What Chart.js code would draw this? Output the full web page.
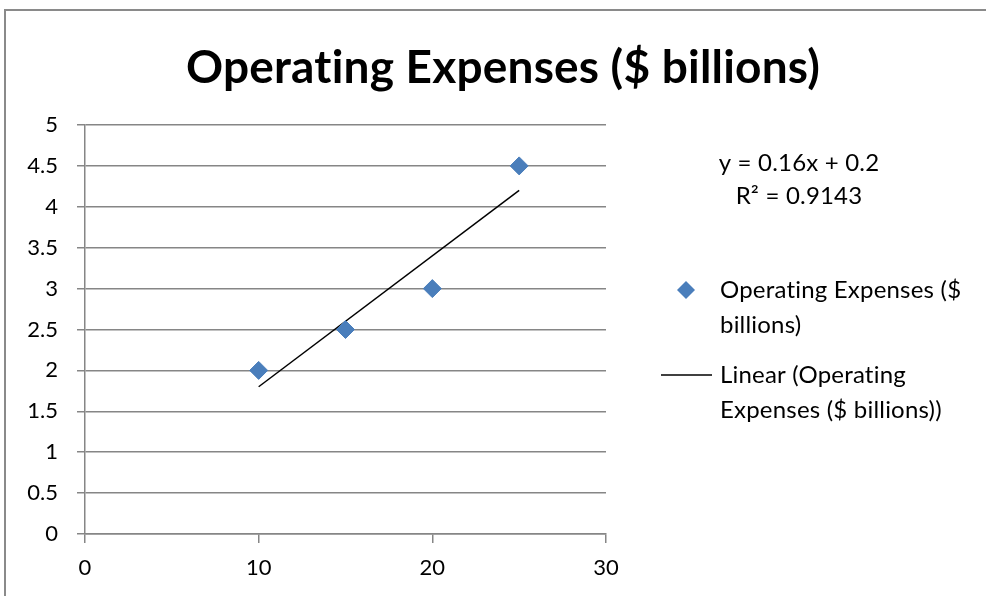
<!DOCTYPE html>
<html>
<head>
<meta charset="utf-8">
<script src="https://cdn.jsdelivr.net/npm/chart.js@4.4.0/dist/chart.umd.min.js"></script>
<style>
html, body { margin: 0; padding: 0; background: #fff; overflow: hidden; }
#wrap { position: relative; width: 986px; height: 596px; }
</style>
</head>
<body>
<div id="wrap"><canvas id="chart" width="986" height="596"></canvas></div>
<script>
// chart data
var chartTitle = "Operating Expenses ($ billions)";
var seriesName = "Operating Expenses ($ billions)";
var xValues = [10, 15, 20, 25];
var yValues = [2, 2.5, 3, 4.5];
var xTicks = [0, 10, 20, 30];
var yTicks = [0, 0.5, 1, 1.5, 2, 2.5, 3, 3.5, 4, 4.5, 5];

var FONT = "Lato";
var GRID = "#868686";
var BLUE = "#4A7EBB";

// least squares trendline (like Excel's "Linear" trendline)
var n = xValues.length, mx = 0, my = 0;
for (var i = 0; i < n; i++) { mx += xValues[i] / n; my += yValues[i] / n; }
var sxy = 0, sxx = 0, syy = 0;
for (i = 0; i < n; i++) {
    sxy += (xValues[i] - mx) * (yValues[i] - my);
    sxx += (xValues[i] - mx) * (xValues[i] - mx);
    syy += (yValues[i] - my) * (yValues[i] - my);
}
var slope = sxy / sxx;
var intercept = my - slope * mx;
var r2 = (sxy * sxy) / (sxx * syy);
var xFirst = Math.min.apply(null, xValues), xLast = Math.max.apply(null, xValues);
var trendPoints = [
    { x: xFirst, y: slope * xFirst + intercept },
    { x: xLast, y: slope * xLast + intercept }
];
var eqText = "y = " + +slope.toFixed(4) + "x + " + +intercept.toFixed(4);
var r2Text = "R\u00B2 = " + r2.toFixed(4);

var scatterPoints = xValues.map(function (x, k) { return { x: x, y: yValues[k] }; });

function wrapText(ctx, text, maxW) {
    var words = text.split(" "), lines = [], cur = "";
    words.forEach(function (w) {
        var t = cur ? cur + " " + w : w;
        if (ctx.measureText(t).width > maxW && cur) { lines.push(cur); cur = w; }
        else cur = t;
    });
    if (cur) lines.push(cur);
    return lines;
}

// frame, title, equation and legend
var extrasPlugin = {
    id: "extras",
    afterDraw: function (chart) {
        var ctx = chart.ctx;
        ctx.save();
        // outer frame (cut off at right and bottom)
        ctx.strokeStyle = "#8a8a8a";
        ctx.lineWidth = 2;
        ctx.beginPath();
        ctx.moveTo(5, 600);
        ctx.lineTo(5, 10);
        ctx.lineTo(990, 10);
        ctx.stroke();

        // no "ti" ligature, like the original font
        if ("letterSpacing" in ctx) ctx.letterSpacing = "0.2px";

        // title
        ctx.fillStyle = "#000";
        ctx.textAlign = "center";
        ctx.textBaseline = "middle";
        ctx.font = "bold 46px " + FONT;
        ctx.fillText(chartTitle, 503, 68);

        // trendline equation
        ctx.font = "24px " + FONT;
        ctx.fillText(eqText, 799, 163);
        ctx.fillText(r2Text, 799, 196);

        // legend
        ctx.textAlign = "left";
        var lines = wrapText(ctx, chart.data.datasets[0].label, 262);
        lines.forEach(function (l, k) { ctx.fillText(l, 720, 290 + k * 35); });
        ctx.fillStyle = BLUE;
        ctx.beginPath();
        ctx.moveTo(686, 281); ctx.lineTo(695, 290); ctx.lineTo(686, 299); ctx.lineTo(677, 290);
        ctx.closePath();
        ctx.fill();

        ctx.fillStyle = "#000";
        lines = wrapText(ctx, chart.data.datasets[1].label, 262);
        lines.forEach(function (l, k) { ctx.fillText(l, 720, 375 + k * 35); });
        ctx.strokeStyle = "#000";
        ctx.lineWidth = 1.5;
        ctx.beginPath();
        ctx.moveTo(661, 375); ctx.lineTo(712, 375);
        ctx.stroke();
        ctx.restore();
    }
};

var ctx = document.getElementById("chart");

var chartData = {
    datasets: [{
        label: seriesName,
        data: scatterPoints,
        showLine: false,
        pointStyle: "rectRot",
        pointRadius: 9,
        pointHoverRadius: 9,
        backgroundColor: BLUE,
        borderColor: BLUE,
        order: 1
    }, {
        label: "Linear (" + seriesName + ")",
        data: trendPoints,
        showLine: true,
        borderColor: "#000",
        borderWidth: 1.5,
        pointRadius: 0,
        fill: false,
        order: 2
    }]
};

var chartOptions = {
    responsive: false,
    animation: false,
    layout: { padding: { top: 125, right: 380, left: 0, bottom: 0 } },
    plugins: {
        legend: { display: false },
        title: { display: false },
        tooltip: { enabled: false }
    },
    scales: {
        x: {
            type: "linear",
            min: 0, max: 30,
            afterBuildTicks: function (s) { s.ticks = xTicks.map(function (v) { return { value: v }; }); },
            afterFit: function (s) { s.height = 62; },
            grid: { drawOnChartArea: false, drawTicks: true, tickLength: 9, color: GRID, lineWidth: 1.5 },
            border: { display: true, color: GRID, width: 1.5 },
            ticks: { color: "#000", padding: 12, font: { family: FONT, size: 22 } }
        },
        y: {
            type: "linear",
            min: 0, max: 5,
            afterBuildTicks: function (s) { s.ticks = yTicks.map(function (v) { return { value: v }; }); },
            afterFit: function (s) { s.width = 85; },
            grid: { drawOnChartArea: true, drawTicks: true, tickLength: 8, color: GRID, lineWidth: 1.5 },
            border: { display: true, color: GRID, width: 1.5 },
            ticks: {
                color: "#000", padding: 19, font: { family: FONT, size: 22 },
                callback: function (v) { return String(v); }
            }
        }
    }
};

var config = {
    type: "scatter",
    data: chartData,
    options: chartOptions,
    plugins: [extrasPlugin]
};

var expensesChart = new Chart(ctx, config);
</script>
</body>
</html>
